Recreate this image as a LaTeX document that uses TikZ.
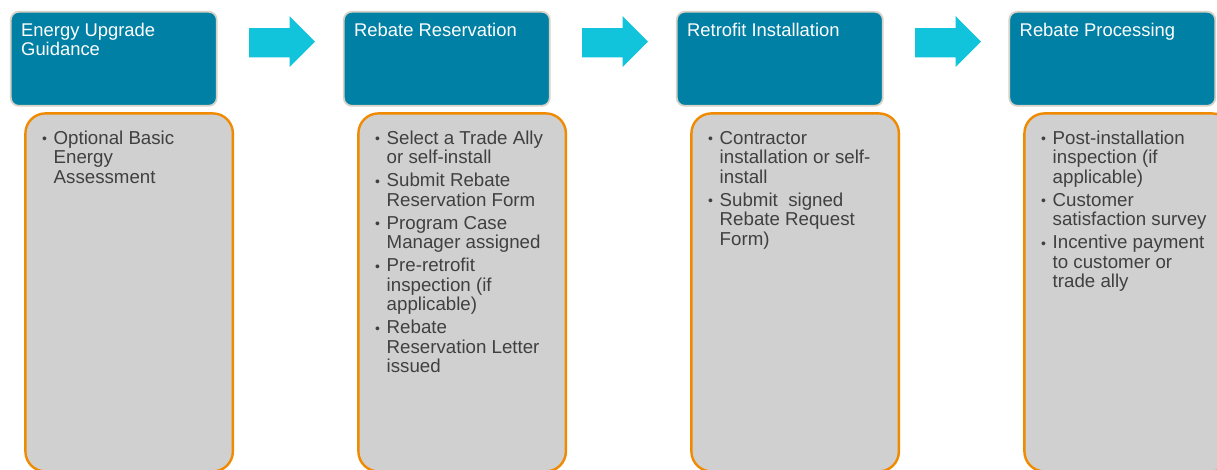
\documentclass[tikz,border=0pt]{standalone}
\usepackage{fontspec}
\setmainfont{Liberation Sans}
\definecolor{hdrfill}{HTML}{0080A4}
\definecolor{hdrline}{HTML}{D6D2C6}
\definecolor{arrowc}{HTML}{12C3DC}
\definecolor{boxline}{HTML}{F08A00}
\definecolor{boxfill}{HTML}{D0D0D0}
\definecolor{txtc}{HTML}{404040}
\newcommand{\bul}{\makebox[11.5pt][l]{\raisebox{0.5pt}{\fontsize{14}{14}\selectfont •}}}
\tikzset{
  hdrbox/.style={draw=hdrline, line width=1.8pt, fill=hdrfill, rounded corners=8pt,
    anchor=north west, minimum width=206pt, minimum height=94pt, inner sep=0pt},
  stepbox/.style={draw=boxline, line width=2.4pt, fill=boxfill, rounded corners=20pt,
    anchor=north west, minimum width=207.5pt, minimum height=358pt, inner sep=0pt},
  hdrtext/.style={anchor=north west, inner sep=0pt, text=white,
    font=\fontsize{18.4}{18}\selectfont},
  bultext/.style={anchor=north west, inner sep=0pt, text=txtc,
    font=\fontsize{18.7}{19.5}\selectfont},
  blockarrow/.style={fill=arrowc}
}
\begin{document}
\begin{tikzpicture}[x=1pt,y=-1pt]
\useasboundingbox (0,0) rectangle (1217,469);
\clip (0,0) rectangle (1217,469);

% header boxes
\node[hdrbox] (h1) at (9.9,10.9) {};
\node[hdrbox] (h2) at (342.9,10.9) {};
\node[hdrbox] (h3) at (675.9,10.9) {};
\node[hdrbox] (h4) at (1008.4,10.9) {};

\node[hdrtext] (t1) at (21,23.4) {\begin{tabular}{@{}l@{}}Energy Upgrade\\Guidance\end{tabular}};
\node[hdrtext] (t2) at (354,23.4) {\begin{tabular}{@{}l@{}}Rebate Reservation\end{tabular}};
\node[hdrtext] (t3) at (687,23.4) {\begin{tabular}{@{}l@{}}Retrofit Installation\end{tabular}};
\node[hdrtext] (t4) at (1019.5,23.4) {\begin{tabular}{@{}l@{}}Rebate Processing\end{tabular}};

% arrows
\foreach \dx/\nm in {0/a1,333/a2,666/a3}{
  \begin{scope}[xshift=\dx pt]
    \fill[blockarrow] (249,28) -- (289.5,28) -- (289.5,16) -- (315,41.7) -- (289.5,67) -- (289.5,57.3) -- (249,57.3) -- cycle;
    \coordinate (\nm) at (282,41.7);
  \end{scope}
}

% content boxes
\node[stepbox] (b1) at (24.2,112.2) {};
\node[stepbox] (b2) at (357.2,112.2) {};
\node[stepbox] (b3) at (690.2,112.2) {};
\node[stepbox] (b4) at (1023.2,112.2) {};

\node[bultext] (c1) at (42,130.35) {\begin{tabular}{@{}l@{}l@{}}
\bul & Optional Basic\\
 & Energy\\
 & Assessment
\end{tabular}};

\node[bultext] (c2) at (375,130.35) {\begin{tabular}{@{}l@{}l@{}}
\bul & Select a Trade Ally\\
 & or self-install\\[3.5pt]
\bul & Submit Rebate\\
 & Reservation Form\\[3.5pt]
\bul & Program Case\\
 & Manager assigned\\[3.5pt]
\bul & Pre-retrofit\\
 & inspection (if\\
 & applicable)\\[3.5pt]
\bul & Rebate\\
 & Reservation Letter\\
 & issued
\end{tabular}};

\node[bultext] (c3) at (708,130.35) {\begin{tabular}{@{}l@{}l@{}}
\bul & Contractor\\
 & installation or self-\\
 & install\\[3.5pt]
\bul & Submit\ \ signed\\
 & Rebate Request\\
 & Form)
\end{tabular}};

\node[bultext] (c4) at (1041,130.35) {\begin{tabular}{@{}l@{}l@{}}
\bul & Post-installation\\
 & inspection (if\\
 & applicable)\\[3.5pt]
\bul & Customer\\
 & satisfaction survey\\[3.5pt]
\bul & Incentive payment\\
 & to customer or\\
 & trade ally
\end{tabular}};
\end{tikzpicture}
\end{document}
